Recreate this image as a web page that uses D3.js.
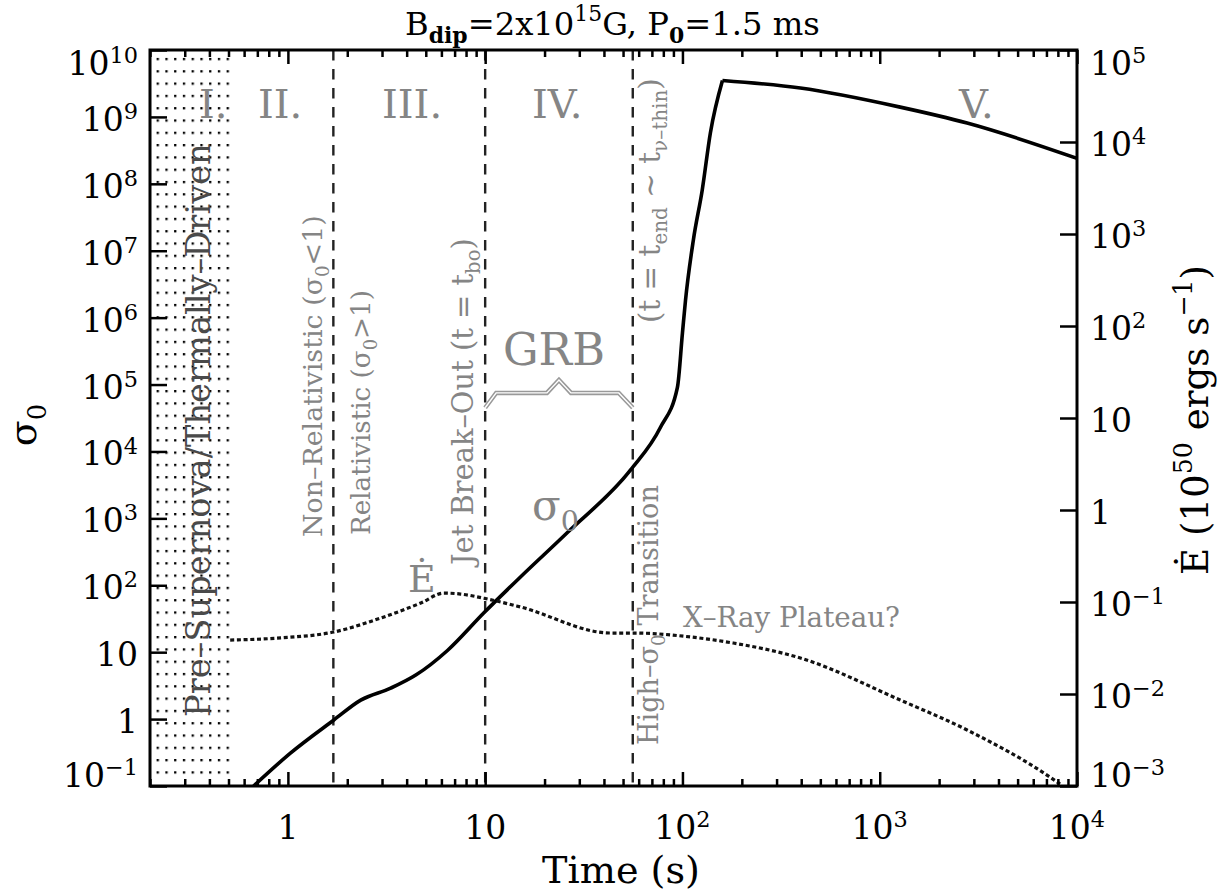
<!DOCTYPE html>
<html>
<head>
<meta charset="utf-8">
<script src="https://cdn.jsdelivr.net/npm/d3@7"></script>
<style>
body { margin: 0; background: #fff; }
svg { display: block; }
text { font-family: "DejaVu Serif", serif; }
</style>
</head>
<body>
<svg id="chart" width="1227" height="895"></svg>
<script>
// sigma_0 (left axis)
var sigmaTime  = [0.67, 1.03, 1.71, 2.34, 3.32, 4.45, 6.46, 9.83, 15.1, 26.2, 54.6, 77.4, 94.3, 100, 103.6, 113.6, 126, 138.6, 159.5, 396, 1270, 2773, 10000];
var sigmaValue = [0.1, 0.31, 0.97, 1.92, 2.9, 4.55, 10.7, 38.5, 133, 620, 5300, 23000, 91000, 5.9e5, 1.8e6, 1.45e7, 8.1e7, 5.8e8, 3.5e9, 2.7e9, 1.4e9, 8.1e8, 2.4e8];

// E-dot (right axis, 1e50 erg/s)
var edotTime  = [0.51, 0.92, 1.71, 2.96, 4.72, 6.17, 7.51, 9.83, 15.1, 43.2, 56.5, 109.7, 181, 396, 1270, 2773, 7295, 8200];
var edotValue = [0.0386, 0.0407, 0.0472, 0.067, 0.0975, 0.125, 0.122, 0.110, 0.0883, 0.046, 0.046, 0.0417, 0.0358, 0.0246, 0.0086, 0.00406, 0.00125, 0.00105];

// phase boundaries (s)
var preSNEnd = 0.51;
var phaseBounds = [1.7, 10, 56];

// ticks
var xMajor = [1, 10, 100, 1000, 10000];
var xMinor = [0.2,0.3,0.4,0.5,0.6,0.7,0.8,0.9, 2,3,4,5,6,7,8,9, 20,30,40,50,60,70,80,90, 200,300,400,500,600,700,800,900, 2000,3000,4000,5000,6000,7000,8000,9000];
var leftExp  = [-1,0,1,2,3,4,5,6,7,8,9,10];
var rightExp = [-3,-2,-1,0,1,2,3,4,5];

// GRB brace heights (sigma units)
var braceEnd = 4.5e4, braceArm = 7.5e4, bracePeak = 1.17e5;

var svg = d3.select("#chart");
var L = 150, R = 1077, T = 50, B = 786;

var x  = d3.scaleLog().domain([0.2, 1e4]).range([L, R]);
var yL = d3.scaleLog().domain([0.1, 1e10]).range([B, T]);
var yR = d3.scaleLog().domain([1e-3, 1e5]).range([B, T]);

// rich text: parts with optional sub / sup
function rich(t, parts, supShift) {
  var shift = 0;
  parts.forEach(function(p) {
    var s = (p.sub || p.sup) ? 0.68 : 1;
    var target = p.sub ? 0.25 : p.sup ? -(supShift || 0.42) : 0;
    var ts = t.append("tspan").text(p.t);
    if (s !== 1) ts.attr("font-size", s + "em");
    if (target !== shift) ts.attr("dy", ((target - shift) / s) + "em");
    if (p.bold) ts.attr("font-weight", "bold");
    shift = target;
  });
  return t;
}
function fit(t, len) {
  var fs = parseFloat(t.attr("font-size"));
  var w = t.node().getComputedTextLength();
  t.attr("font-size", fs * len / w);
  return t;
}
function powParts(k) {
  if (k === 0) return [{t: "1"}];
  if (k === 1) return [{t: "10"}];
  return [{t: "10"}, {t: k < 0 ? "\u2212" + (-k) : "" + k, sup: true}];
}

var defs = svg.append("defs");
defs.append("clipPath").attr("id", "plot")
  .append("rect").attr("x", L).attr("y", T).attr("width", R - L).attr("height", B - T);
defs.append("pattern").attr("id", "dots").attr("patternUnits", "userSpaceOnUse")
  .attr("x", 156.6).attr("y", 57.9).attr("width", 8.75).attr("height", 12.3)
  .append("rect").attr("width", 2.3).attr("height", 2.3).attr("fill", "#000");

// pre-supernova dotted region
svg.append("rect")
  .attr("x", x(0.2)).attr("y", T)
  .attr("width", x(preSNEnd) - x(0.2)).attr("height", B - T - 6)
  .attr("fill", "url(#dots)");

// phase boundaries
svg.selectAll(".phase").data(phaseBounds).enter().append("line")
  .attr("x1", function(d) { return x(d); }).attr("x2", function(d) { return x(d); })
  .attr("y1", T).attr("y2", B)
  .attr("stroke", "#222").attr("stroke-width", 2.4).attr("stroke-dasharray", "10.5,8.5");

// GRB brace
var bx0 = x(phaseBounds[1]), bx1 = x(phaseBounds[2]), bxm = (bx0 + bx1) / 2;
var brace = [[bx0, yL(braceEnd)], [bx0 + 11, yL(braceArm)], [bxm - 12, yL(braceArm)], [bxm, yL(bracePeak)],
             [bxm + 12, yL(braceArm)], [bx1 - 14, yL(braceArm)], [bx1, yL(braceEnd)]];
svg.append("path").attr("d", d3.line()(brace)).attr("fill", "none").attr("stroke", "#999").attr("stroke-width", 4.5);
svg.append("path").attr("d", d3.line()(brace)).attr("fill", "none").attr("stroke", "#fff").attr("stroke-width", 1.4);

// curves
var curves = svg.append("g").attr("clip-path", "url(#plot)");
var sigmaPts = sigmaTime.map(function(t, i) { return [t, sigmaValue[i]]; });
var peak = d3.maxIndex(sigmaValue);
var lineL = d3.line().x(function(d) { return x(d[0]); }).y(function(d) { return yL(d[1]); }).curve(d3.curveMonotoneX);
[sigmaPts.slice(0, peak + 1), sigmaPts.slice(peak)].forEach(function(seg) {
  curves.append("path").attr("d", lineL(seg)).attr("fill", "none")
    .attr("stroke", "#000").attr("stroke-width", 3.6).attr("stroke-linejoin", "round");
});
var edotPts = edotTime.map(function(t, i) { return [t, edotValue[i]]; });
var lineR = d3.line().x(function(d) { return x(d[0]); }).y(function(d) { return yR(d[1]); }).curve(d3.curveMonotoneX);
curves.append("path").attr("d", lineR(edotPts)).attr("fill", "none")
  .attr("stroke", "#111").attr("stroke-width", 3.2).attr("stroke-dasharray", "4,2.7");

// annotations
var gray = "#858585";
[["I.", 199], ["II.", 258], ["III.", 382], ["IV.", 532], ["V.", 959]].forEach(function(r) {
  svg.append("text").attr("x", r[1]).attr("y", 118).attr("font-family", "Liberation Serif")
    .attr("font-size", 40).attr("fill", gray).text(r[0]);
});
fit(svg.append("text").attr("x", 503).attr("y", 365).attr("font-family", "Liberation Serif")
  .attr("font-size", 50).attr("fill", gray).text("GRB"), 102);
rich(svg.append("text").attr("x", 532).attr("y", 520).attr("font-family", "Liberation Serif")
  .attr("font-size", 42).attr("fill", gray), [{t: "\u03c3"}, {t: "0", sub: true}]);
svg.append("text").attr("x", 408).attr("y", 592).attr("font-family", "Liberation Serif")
  .attr("font-size", 38).attr("fill", gray).text("\u0116");
fit(svg.append("text").attr("x", 683).attr("y", 627).attr("font-size", 24).attr("fill", gray)
  .text("X\u2013Ray Plateau?"), 217);

function vlabel(bx, startY, len, parts, color) {
  var t = svg.append("text").attr("transform", "translate(" + bx + "," + startY + ") rotate(-90)")
    .attr("font-size", 25).attr("fill", color || gray);
  rich(t, parts);
  fit(t, len);
}
vlabel(210, 717, 574, [{t: "Pre\u2013Supernova/Thermally\u2013Driven"}], "#4a4a4a");
vlabel(x(phaseBounds[0]) - 11, 537, 322, [{t: "Non\u2013Relativistic (\u03c3"}, {t: "0", sub: true}, {t: "<1)"}]);
vlabel(x(phaseBounds[0]) + 37, 535, 245, [{t: "Relativistic (\u03c3"}, {t: "0", sub: true}, {t: ">1)"}]);
vlabel(x(phaseBounds[1]) - 12, 565, 327, [{t: "Jet Break\u2013Out (t = t"}, {t: "bo", sub: true}, {t: ")"}]);
vlabel(x(phaseBounds[2]) + 27, 323, 245, [{t: "(t = t"}, {t: "end", sub: true}, {t: " ~ t"}, {t: "\u03bd\u2013thin", sub: true}, {t: ")"}]);
vlabel(x(phaseBounds[2]) + 25, 745, 260, [{t: "High\u2013\u03c3"}, {t: "0", sub: true}, {t: " Transition"}]);

// frame
svg.append("rect").attr("x", L).attr("y", T).attr("width", R - L).attr("height", B - T)
  .attr("fill", "none").attr("stroke", "#000").attr("stroke-width", 3);

function styleAxis(g) {
  g.select(".domain").remove();
  g.selectAll(".tick line").attr("stroke", "#000").attr("stroke-width", 2.5);
}
svg.append("g").attr("transform", "translate(0," + B + ")")
  .call(d3.axisBottom(x).tickValues(xMajor).tickSize(-14).tickSizeOuter(0).tickFormat("")).call(styleAxis);
svg.append("g").attr("transform", "translate(0," + B + ")")
  .call(d3.axisBottom(x).tickValues(xMinor).tickSize(-7).tickSizeOuter(0).tickFormat("")).call(styleAxis);
svg.append("g").attr("transform", "translate(0," + T + ")")
  .call(d3.axisTop(x).tickValues(xMajor).tickSize(-14).tickSizeOuter(0).tickFormat("")).call(styleAxis);
svg.append("g").attr("transform", "translate(0," + T + ")")
  .call(d3.axisTop(x).tickValues(xMinor).tickSize(-7).tickSizeOuter(0).tickFormat("")).call(styleAxis);
svg.append("g").attr("transform", "translate(" + L + ",0)")
  .call(d3.axisLeft(yL).tickValues(leftExp.map(function(k) { return Math.pow(10, k); })).tickSize(-17).tickSizeOuter(0).tickFormat("")).call(styleAxis);
svg.append("g").attr("transform", "translate(" + R + ",0)")
  .call(d3.axisRight(yR).tickValues(rightExp.map(function(k) { return Math.pow(10, k); })).tickSize(-17).tickSizeOuter(0).tickFormat("")).call(styleAxis);

// tick labels
var tickFont = 33;
function labelY(py) { return Math.max(T + 25, Math.min(B + 1, py + 14)); }
xMajor.forEach(function(v) {
  rich(svg.append("text").attr("x", x(v)).attr("y", 839).attr("text-anchor", "middle")
    .attr("font-size", tickFont), powParts(Math.round(Math.log10(v))), 0.36);
});
leftExp.forEach(function(k) {
  rich(svg.append("text").attr("x", 138).attr("y", labelY(yL(Math.pow(10, k)))).attr("text-anchor", "end")
    .attr("font-size", tickFont), powParts(k), 0.36);
});
rightExp.forEach(function(k) {
  rich(svg.append("text").attr("x", 1090).attr("y", labelY(yR(Math.pow(10, k)))).attr("text-anchor", "start")
    .attr("font-size", tickFont), powParts(k), 0.36);
});

// titles
fit(rich(svg.append("text").attr("x", 405).attr("y", 35).attr("font-size", 29),
  [{t: "B"}, {t: "dip", sub: true, bold: true}, {t: "=2x10"}, {t: "15", sup: true}, {t: "G, P"}, {t: "0", sub: true, bold: true}, {t: "=1.5 ms"}]), 415);
fit(svg.append("text").attr("x", 621).attr("y", 883).attr("text-anchor", "middle").attr("font-size", 34)
  .text("Time (s)"), 158);
rich(svg.append("text").attr("transform", "translate(36,425) rotate(-90)").attr("text-anchor", "middle")
  .attr("font-size", 38), [{t: "\u03c3"}, {t: "0", sub: true}]);
fit(rich(svg.append("text").attr("transform", "translate(1208,420) rotate(-90)").attr("text-anchor", "middle")
  .attr("font-size", 32), [{t: "\u0116 (10"}, {t: "50", sup: true}, {t: " ergs s"}, {t: "\u22121", sup: true}, {t: ")"}]), 310);
</script>
</body>
</html>
